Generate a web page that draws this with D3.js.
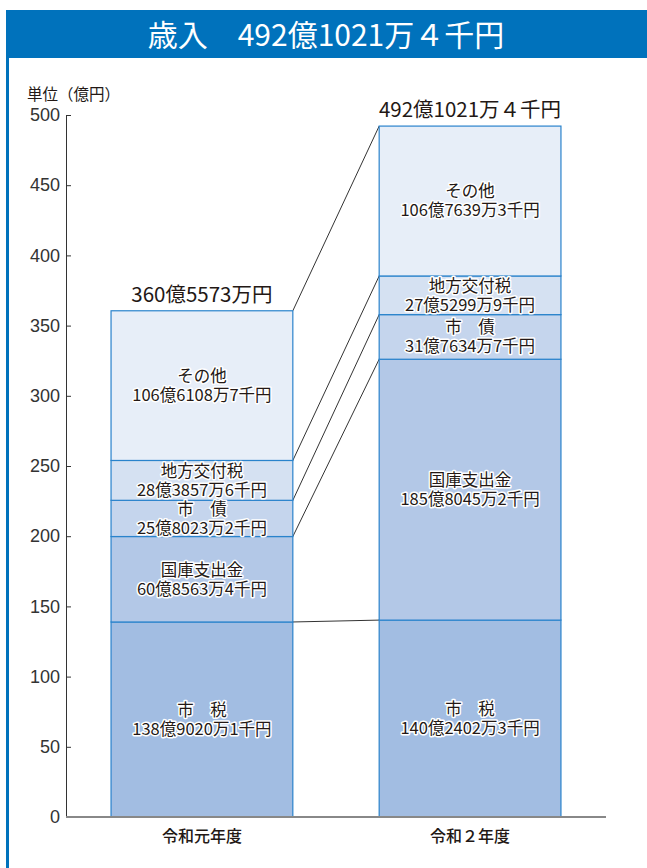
<!DOCTYPE html>
<html>
<head>
<meta charset="utf-8">
<script src="https://cdn.jsdelivr.net/npm/d3@7"></script>
<style>
  html, body { margin: 0; padding: 0; background: #fff; }
  svg { display: block; font-family: "Noto Sans CJK JP", "Noto Sans", sans-serif; }
</style>
</head>
<body>
<svg id="chart" width="647" height="868"></svg>
<script>
// Data
const categories = ['令和元年度', '令和２年度'];
const sources = ['市税', '国庫支出金', '市債', '地方交付税', 'その他'];
const sourceNames = ['市　税', '国庫支出金', '市　債', '地方交付税', 'その他'];
const reiwa1Values = [138.90201, 60.85634, 25.80232, 28.38576, 106.61087];
const reiwa2Values = [140.24023, 185.80452, 31.76347, 27.52999, 106.76393];
const reiwa1Text = ['138億9020万1千円', '60億8563万4千円', '25億8023万2千円', '28億3857万6千円', '106億6108万7千円'];
const reiwa2Text = ['140億2402万3千円', '185億8045万2千円', '31億7634万7千円', '27億5299万9千円', '106億7639万3千円'];
const totalText = ['360億5573万円', '492億1021万４千円'];
const yTicks = [0, 50, 100, 150, 200, 250, 300, 350, 400, 450, 500];
const title = '歳入　492億1021万４千円';
const unitLabel = '単位（億円）';

const fills = ['#a2bde2', '#b3c8e7', '#c5d5ed', '#d5e1f2', '#e7eef8'];

// Build rows for stacking
const rows = categories.map((cat, i) => {
  const vals = i === 0 ? reiwa1Values : reiwa2Values;
  const row = { category: cat };
  sources.forEach((s, j) => { row[s] = vals[j]; });
  return row;
});
const labelText = [reiwa1Text, reiwa2Text];

const svg = d3.select('#chart');
const blue = '#0072bc';

// Frame + title band
svg.append('rect').attr('x', 6).attr('y', 10).attr('width', 3).attr('height', 858).attr('fill', blue);
svg.append('rect').attr('x', 6).attr('y', 10).attr('width', 641).attr('height', 48).attr('fill', blue);
svg.append('text')
  .attr('x', 326).attr('y', 35)
  .attr('dy', '0.35em')
  .attr('text-anchor', 'middle')
  .attr('fill', '#fff')
  .attr('font-size', 30)
  .attr('font-weight', 400)
  .text(title);

// Scales
const y = d3.scaleLinear().domain([0, 500]).range([817, 115]);
const x = d3.scaleBand().domain(categories).range([66, 606]).paddingInner(0.322).paddingOuter(0.168);

const stack = d3.stack().keys(sources);
const series = stack(rows);

// Connector lines between bars (top of each segment)
series.forEach(s => {
  const a = s[0], b = s[1];
  svg.append('line')
    .attr('x1', x(categories[0]) + x.bandwidth())
    .attr('y1', y(a[1]))
    .attr('x2', x(categories[1]))
    .attr('y2', y(b[1]))
    .attr('stroke', '#333')
    .attr('stroke-width', 1);
});

// Bars
const layers = svg.append('g').selectAll('g')
  .data(series)
  .join('g')
  .attr('fill', (d, i) => fills[i]);

layers.selectAll('rect')
  .data(d => d)
  .join('rect')
  .attr('x', d => x(d.data.category))
  .attr('y', d => y(d[1]))
  .attr('width', x.bandwidth())
  .attr('height', d => y(d[0]) - y(d[1]))
  .attr('stroke', '#2a83cc')
  .attr('stroke-width', 1.2);

// Segment labels
series.forEach((s, j) => {
  s.forEach((d, i) => {
    const cx = x(d.data.category) + x.bandwidth() / 2;
    const cy = (y(d[0]) + y(d[1])) / 2;
    const t = svg.append('text')
      .attr('x', cx)
      .attr('text-anchor', 'middle')
      .attr('font-size', 16.5)
      .attr('fill', '#231815')
      .attr('stroke', '#fff')
      .attr('stroke-width', 3)
      .attr('stroke-linejoin', 'round')
      .attr('paint-order', 'stroke');
    t.append('tspan').attr('x', cx).attr('y', cy - 9.5).attr('dy', '0.35em').text(sourceNames[j]);
    t.append('tspan').attr('x', cx).attr('y', cy + 9.5).attr('dy', '0.35em').text(labelText[i][j]);
  });
});

// Totals above bars
const tops = series[series.length - 1];
tops.forEach((d, i) => {
  svg.append('text')
    .attr('x', x(d.data.category) + x.bandwidth() / 2)
    .attr('y', y(d[1]) - 16)
    .attr('dy', '0.35em')
    .attr('text-anchor', 'middle')
    .attr('font-size', 20.5)
    .attr('fill', '#231815')
    .text(totalText[i]);
});

// Y axis
const yAxis = svg.append('g')
  .attr('transform', 'translate(66,0)')
  .call(d3.axisLeft(y).tickValues(yTicks).tickSize(-5).tickSizeOuter(0).tickPadding(6));
yAxis.select('.domain').attr('stroke', '#333');
yAxis.selectAll('.tick line').attr('stroke', '#333');
yAxis.selectAll('.tick text').attr('font-size', 18).attr('fill', '#333').attr('font-family', 'inherit');

// X axis baseline
svg.append('line')
  .attr('x1', 66).attr('x2', 606)
  .attr('y1', y(0)).attr('y2', y(0))
  .attr('stroke', '#888').attr('stroke-width', 2);

// Category labels
svg.append('g').selectAll('text')
  .data(categories)
  .join('text')
  .attr('x', d => x(d) + x.bandwidth() / 2)
  .attr('y', 836)
  .attr('dy', '0.35em')
  .attr('text-anchor', 'middle')
  .attr('font-size', 16)
  .attr('font-weight', 500)
  .attr('fill', '#231815')
  .text(d => d);

// Unit label
svg.append('text')
  .attr('x', 27).attr('y', 95)
  .attr('dy', '0.35em')
  .attr('font-size', 15.5)
  .attr('fill', '#231815')
  .text(unitLabel);
</script>
</body>
</html>
